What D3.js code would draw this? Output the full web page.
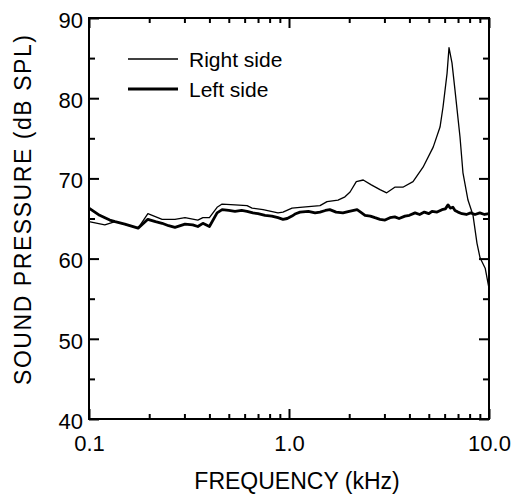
<!DOCTYPE html>
<html>
<head>
<meta charset="utf-8">
<script src="https://cdn.jsdelivr.net/npm/d3@7"></script>
<style>
  body { margin: 0; background: #fff; }
  text { font-family: "Liberation Sans", Arial, sans-serif; fill: #000; }
</style>
</head>
<body>
<svg width="516" height="495"></svg>
<script>
// Right side (thin line): frequency in kHz, level in dB SPL
const rightFreq = [0.100, 0.120, 0.135, 0.176, 0.197, 0.232, 0.269, 0.302, 0.350, 0.371,
  0.400, 0.437, 0.463, 0.537, 0.617, 0.654, 0.742, 0.881, 0.933, 1.035,
  1.135, 1.429, 1.549, 1.758, 1.905, 2.02, 2.17, 2.35, 2.58, 2.85,
  3.08, 3.38, 3.71, 4.17, 4.68, 5.26, 5.69, 5.89, 6.17, 6.31,
  6.53, 6.76, 7.16, 7.41, 7.85, 8.32, 8.71, 9.02, 9.57, 10.0];
const rightDb = [64.6, 64.2, 64.6, 63.8, 65.6, 64.9, 64.9, 65.1, 64.8, 65.1,
  65.1, 66.4, 66.8, 66.7, 66.6, 66.3, 66.1, 65.7, 65.8, 66.3,
  66.4, 66.6, 67.1, 67.3, 67.7, 68.3, 69.6, 69.8, 69.2, 68.6,
  68.2, 68.9, 68.9, 69.6, 71.4, 73.9, 76.4, 78.9, 83.1, 86.3,
  84.4, 81.0, 75.2, 70.7, 67.3, 65.4, 61.9, 60.1, 58.8, 56.3];

// Left side (thick line)
const leftFreq = [0.100, 0.113, 0.127, 0.135, 0.151, 0.176, 0.197, 0.215, 0.232, 0.25,
  0.269, 0.302, 0.33, 0.350, 0.371, 0.400, 0.437, 0.463, 0.5, 0.537,
  0.58, 0.617, 0.660, 0.70, 0.759, 0.82, 0.881, 0.933, 0.98, 1.035,
  1.08, 1.135, 1.25, 1.35, 1.429, 1.52, 1.60, 1.72, 1.86, 2.0,
  2.19, 2.28, 2.40, 2.55, 2.69, 2.85, 3.02, 3.2, 3.38, 3.55,
  3.80, 4.0, 4.27, 4.5, 4.75, 5.0, 5.19, 5.5, 5.82, 6.05,
  6.24, 6.4, 6.6, 6.76, 7.0, 7.33, 7.7, 8.1, 8.51, 9.0,
  9.5, 10.0];
const leftDb = [66.3, 65.4, 64.8, 64.6, 64.3, 63.8, 64.9, 64.6, 64.4, 64.1,
  63.9, 64.3, 64.2, 64.0, 64.4, 64.0, 65.7, 66.1, 66.0, 65.9,
  66.0, 65.9, 65.7, 65.6, 65.4, 65.3, 65.1, 64.9, 65.0, 65.3,
  65.6, 65.8, 65.9, 65.7, 65.8, 66.0, 66.1, 65.8, 65.7, 65.9,
  66.1, 65.8, 65.4, 65.3, 65.1, 64.9, 64.8, 65.1, 65.2, 65.0,
  65.3, 65.4, 65.7, 65.5, 65.8, 65.6, 65.9, 65.8, 66.1, 66.2,
  66.7, 66.3, 66.4, 66.0, 65.8, 65.6, 65.5, 65.7, 65.5, 65.7,
  65.5, 65.6];

const seriesNames = ['Right side', 'Left side'];
const xMajorTicks = [0.1, 1, 10];
const xMinorTicks = [0.2, 0.3, 0.4, 0.5, 0.6, 0.7, 0.8, 0.9, 2, 3, 4, 5, 6, 7, 8, 9];
const yMajorTicks = [40, 50, 60, 70, 80, 90];
const yMinorTicks = [45, 55, 65, 75, 85];

const svg = d3.select('svg');
const margin = { top: 18, right: 27, bottom: 76, left: 89 };
const width = +svg.attr('width') - margin.left - margin.right;
const height = +svg.attr('height') - margin.top - margin.bottom;
const g = svg.append('g')
  .attr('transform', `translate(${margin.left},${margin.top})`);

const x = d3.scaleLog().domain([0.1, 10]).range([0, width]);
const y = d3.scaleLinear().domain([40, 90]).range([height, 0]);

// inward ticks on all four sides
function ticks(axis, values, size, transform) {
  g.append('g')
    .attr('transform', transform || null)
    .call(axis.tickValues(values).tickSize(-size).tickFormat(''))
    .call(a => a.select('.domain').remove())
    .selectAll('line').attr('stroke', '#000').attr('stroke-width', 2);
}
ticks(d3.axisBottom(x), xMinorTicks, 5, `translate(0,${height})`);
ticks(d3.axisTop(x), xMinorTicks, 5);
ticks(d3.axisTop(x), xMajorTicks, 10);
ticks(d3.axisLeft(y), yMinorTicks, 6);
ticks(d3.axisRight(y), yMinorTicks, 6, `translate(${width},0)`);
ticks(d3.axisRight(y), yMajorTicks, 10, `translate(${width},0)`);

// labelled axes
const xAxis = g.append('g')
  .attr('transform', `translate(0,${height})`)
  .call(d3.axisBottom(x).tickValues(xMajorTicks).tickSize(-10).tickPadding(16)
    .tickFormat(d3.format('.1f')));
const yAxis = g.append('g')
  .call(d3.axisLeft(y).tickValues(yMajorTicks).tickSize(-10).tickPadding(6));
[xAxis, yAxis].forEach(a => {
  a.select('.domain').remove();
  a.selectAll('line').attr('stroke', '#000').attr('stroke-width', 2);
  a.selectAll('text').attr('font-size', 22).attr('font-family', null);
});
yAxis.selectAll('text').attr('dy', '0.42em');

// frame
g.append('rect')
  .attr('width', width).attr('height', height)
  .attr('fill', 'none').attr('stroke', '#000').attr('stroke-width', 2);

// curves
const line = d3.line().x(d => x(d[0])).y(d => y(d[1]));
const series = [
  { pts: d3.zip(rightFreq, rightDb), w: 1.3 },
  { pts: d3.zip(leftFreq, leftDb), w: 2.8 }
];
g.selectAll('path.curve')
  .data(series)
  .enter()
  .append('path')
  .attr('class', 'curve')
  .attr('d', d => line(d.pts))
  .attr('fill', 'none')
  .attr('stroke', '#000')
  .attr('stroke-width', d => d.w)
  .attr('stroke-linejoin', 'round');

// legend
const legend = g.append('g').attr('transform', 'translate(39,41)');
seriesNames.forEach((name, i) => {
  legend.append('line')
    .attr('x1', 0).attr('x2', 50)
    .attr('y1', i * 30).attr('y2', i * 30)
    .attr('stroke', '#000').attr('stroke-width', series[i].w);
  legend.append('text')
    .attr('x', 61).attr('y', i * 30 + 8)
    .attr('font-size', 21)
    .text(name);
});

// axis titles
svg.append('text')
  .attr('x', margin.left + x(1) + 8).attr('y', 489)
  .attr('text-anchor', 'middle')
  .attr('font-size', 23)
  .text('FREQUENCY (kHz)');
svg.append('text')
  .attr('transform', 'translate(31,210) rotate(-90)')
  .attr('text-anchor', 'middle')
  .attr('font-size', 23)
  .attr('textLength', 350)
  .attr('lengthAdjust', 'spacing')
  .text('SOUND PRESSURE (dB SPL)');
</script>
</body>
</html>
